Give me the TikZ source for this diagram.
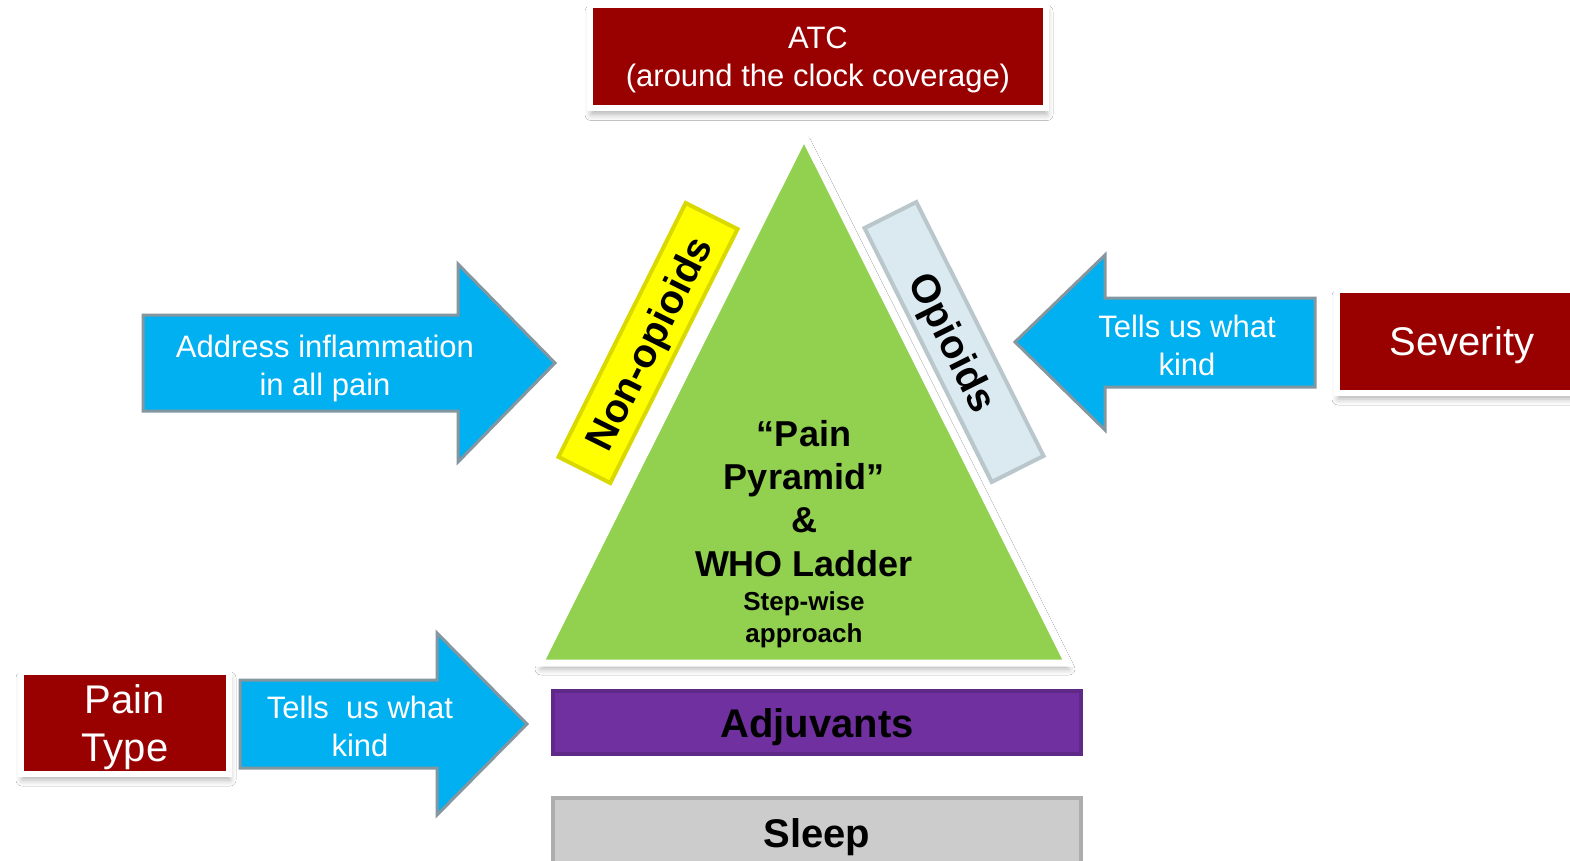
\documentclass[tikz,border=0pt]{standalone}
\usepackage{fontspec}
\setmainfont{Liberation Sans}
\usetikzlibrary{shadows.blur}
\definecolor{boxred}{HTML}{990000}
\definecolor{arrowblue}{HTML}{00B0F0}
\definecolor{arrowedge}{HTML}{8497A0}
\definecolor{pyrgreen}{HTML}{92D050}
\definecolor{nonopyellow}{HTML}{FFFF00}
\definecolor{opioidblue}{HTML}{DAEAF0}
\definecolor{adjpurple}{HTML}{7030A0}
\definecolor{sleepgray}{HTML}{CCCCCC}
\newcommand\myfs[2]{\fontsize{#1pt}{#2pt}\selectfont}
\begin{document}
\begin{tikzpicture}[x=1pt,y=1pt,
  softshadow/.style={blur shadow={shadow xshift=1pt, shadow yshift=-6pt, shadow blur radius=6pt, shadow opacity=30}},
  redbox/.style={fill=boxred, draw=white, line width=6pt, text=white, align=center, inner sep=0pt, text depth=0pt, softshadow},
  bluearrow/.style={fill=arrowblue, draw=arrowedge, line width=3pt, line join=miter},
  arrowtext/.style={text=white, align=center, inner sep=0pt, font=\myfs{31}{38}},
  barbox/.style={draw=#1!85!black, line width=4pt, fill=#1, inner sep=0pt, text depth=0pt, font=\bfseries\myfs{40}{48}},
  ptext/.style={inner sep=0pt, anchor=base, font=\bfseries\myfs{36}{43}},
  psmall/.style={inner sep=0pt, anchor=base, font=\bfseries\myfs{26}{33}},
]
\useasboundingbox (0,0) rectangle (1570,-861);
\fill[white] (0,0) rectangle (1570,-861);

% pyramid
\coordinate (apex) at (804,-136);
\coordinate (bl) at (540,-663);
\coordinate (br) at (1068,-663);
\filldraw[fill=pyrgreen, draw=white, line width=7pt, line join=miter, softshadow] (apex) -- (br) -- (bl) -- cycle;

\node[ptext] (p1) at (804,-446) {“Pain};
\node[ptext] (p2) at (804,-489) {Pyramid”};
\node[ptext] (p3) at (804,-532) {\&};
\node[ptext] (p4) at (804,-576) {WHO Ladder};
\node[psmall] (p5) at (804,-610) {Step-wise};
\node[psmall] (p6) at (804,-642) {approach};

% side bars
\node[barbox=nonopyellow, rotate=63.4, minimum width=284pt, minimum height=58pt] (nonop) at (648,-343) {Non-opioids};
\node[barbox=opioidblue, rotate=-63.4, minimum width=284pt, minimum height=58pt] (op) at (954,-342) {Opioids};

% bottom bars
\node[barbox=adjpurple, minimum width=528pt, minimum height=63pt] (adj) at (817,-722.5) {Adjuvants};
\node[barbox=sleepgray, minimum width=528pt, minimum height=69pt] (sleep) at (817,-832.5) {Sleep};

% red boxes
\node[redbox, minimum width=456pt, minimum height=103pt, font=\myfs{31}{38}] (atc) at (818,-57) {ATC\\(around the clock coverage)};
\node[redbox, minimum width=250pt, minimum height=103pt, font=\myfs{40}{48}] (sev) at (1462,-341.5) {Severity};
\node[redbox, minimum width=208pt, minimum height=102pt, font=\myfs{40}{48}] (ptype) at (125,-723) {Pain\\Type};

% arrows
\draw[bluearrow] (143,-315) -- (458,-315) -- (458,-264) -- (555,-363) -- (458,-462) -- (458,-411) -- (143,-411) -- cycle;
\node[arrowtext] (addr) at (325,-368) {Address inflammation\\in all pain};

\draw[bluearrow] (1315,-298) -- (1105,-298) -- (1105,-255) -- (1015,-342) -- (1105,-430) -- (1105,-387) -- (1315,-387) -- cycle;
\node[arrowtext] (sevtxt) at (1187,-345) {Tells us what\\kind};

\draw[bluearrow] (240,-680) -- (437,-680) -- (437,-633) -- (527,-724) -- (437,-815) -- (437,-768) -- (240,-768) -- cycle;
\node[arrowtext] (ptypetxt) at (360,-726) {Tells\ \ us what\\kind};
\end{tikzpicture}
\end{document}
